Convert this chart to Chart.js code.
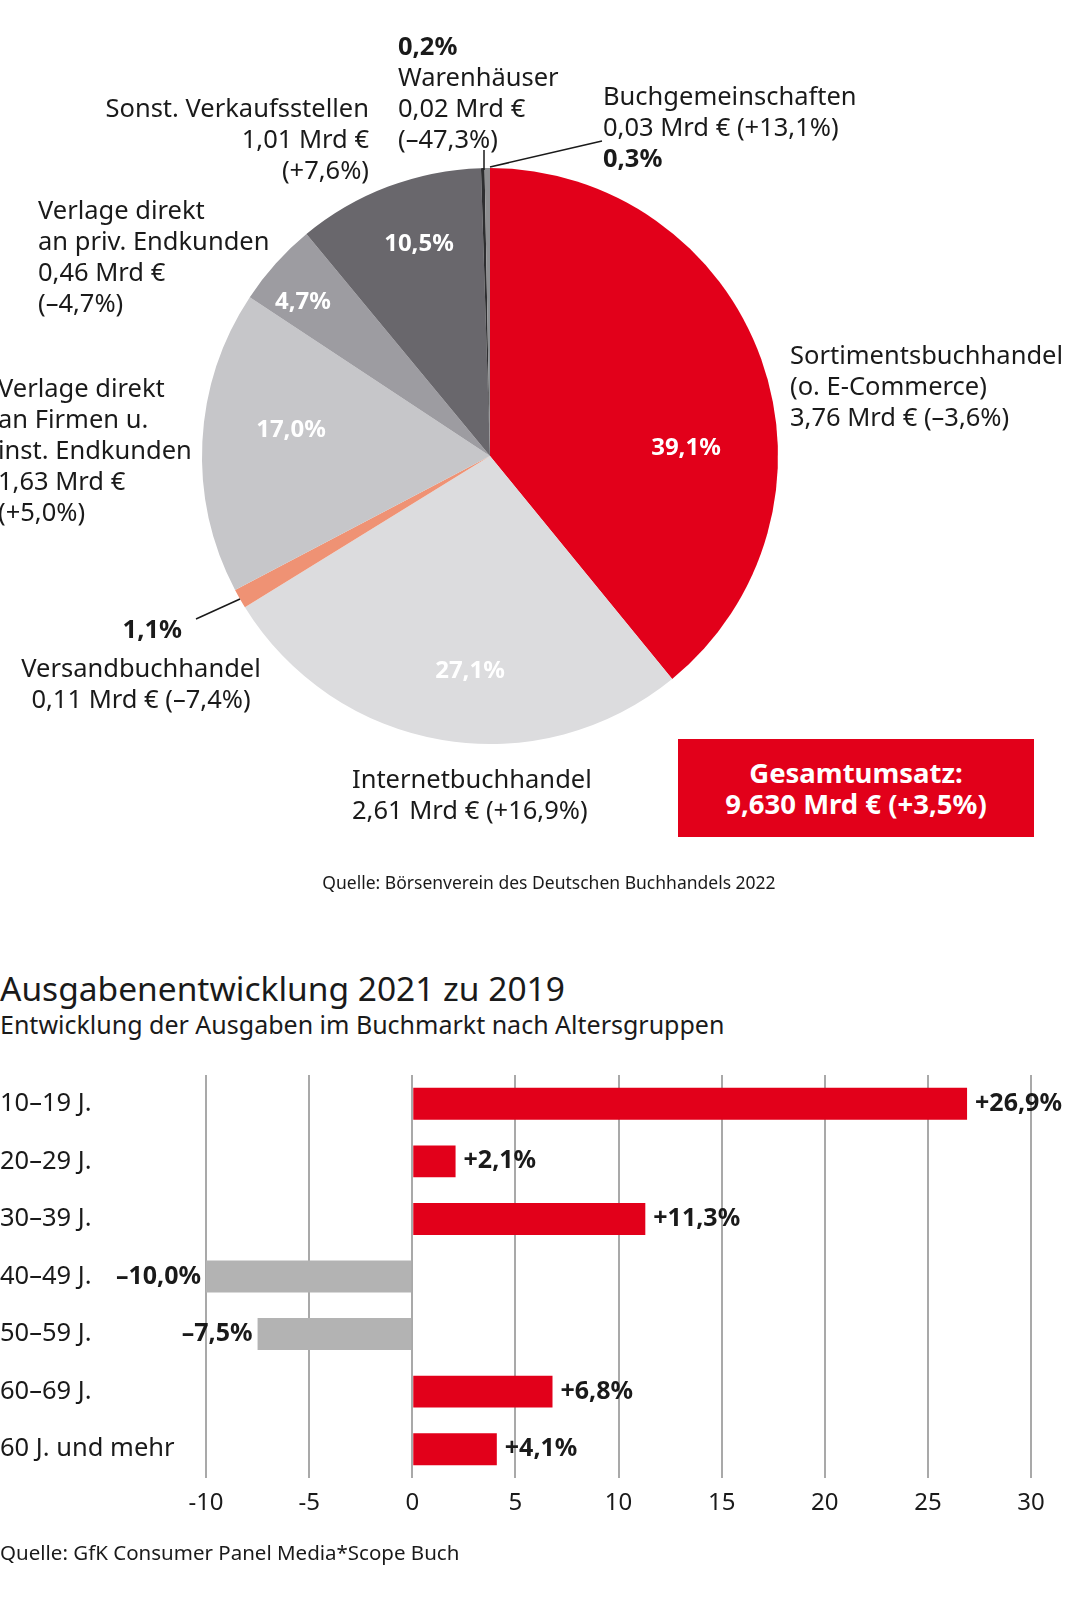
<!DOCTYPE html>
<html>
<head>
<meta charset="utf-8">
<script src="https://cdn.jsdelivr.net/npm/chart.js@4.4.1/dist/chart.umd.min.js"></script>
<style>
  html, body { margin:0; padding:0; background:#fff; }
  body { width:1092px; height:1600px; position:relative; overflow:hidden; font-family:"Noto Sans", sans-serif; color:#1a1a1a; }
  .t { position:absolute; font-size:25.5px; line-height:31px; white-space:nowrap; }
  .in { position:absolute; font-size:24px; font-weight:bold; color:#fff; transform:translate(-50%,-50%); white-space:nowrap; }
  b { font-weight:bold; }
  #pie { position:absolute; left:0; top:0; }
  #bar { position:absolute; left:0; top:1040px; }
  svg { position:absolute; left:0; top:0; }
</style>
</head>
<body>
<canvas id="pie" width="1092" height="880"></canvas>
<svg width="1092" height="900">
  <line x1="484" y1="150" x2="484" y2="170" stroke="#1a1a1a" stroke-width="1.5"/>
  <line x1="490" y1="167" x2="602" y2="141" stroke="#1a1a1a" stroke-width="1.5"/>
  <line x1="196" y1="619" x2="240" y2="599" stroke="#1a1a1a" stroke-width="1.5"/>
</svg>

<div class="t" style="left:398px;top:30px;"><b>0,2%</b><br>Warenhäuser<br>0,02 Mrd €<br>(–47,3%)</div>
<div class="t" style="left:603px;top:80px;">Buchgemeinschaften<br>0,03 Mrd € (+13,1%)<br><b>0,3%</b></div>
<div class="t" style="right:723px;top:92px;text-align:right;">Sonst. Verkaufsstellen<br>1,01 Mrd €<br>(+7,6%)</div>
<div class="t" style="left:38px;top:194px;">Verlage direkt<br>an priv. Endkunden<br>0,46 Mrd €<br>(–4,7%)</div>
<div class="t" style="left:790px;top:339px;">Sortimentsbuchhandel<br>(o. E-Commerce)<br>3,76 Mrd € (–3,6%)</div>
<div class="t" style="left:-2px;top:372px;">Verlage direkt<br>an Firmen u.<br>inst. Endkunden<br>1,63 Mrd €<br>(+5,0%)</div>
<div class="t" style="right:910px;top:613px;font-weight:bold;">1,1%</div>
<div class="t" style="left:141px;top:652px;transform:translateX(-50%);text-align:center;">Versandbuchhandel<br>0,11 Mrd € (–7,4%)</div>
<div class="t" style="left:352px;top:763px;">Internetbuchhandel<br>2,61 Mrd € (+16,9%)</div>
<div style="position:absolute;left:678px;top:739px;width:356px;height:98px;background:#e2001a;color:#fff;font-weight:bold;font-size:27.5px;line-height:31px;text-align:center;box-sizing:border-box;padding-top:18px;">Gesamtumsatz:<br>9,630 Mrd € (+3,5%)</div>
<div style="position:absolute;left:549px;top:870px;transform:translateX(-50%);font-size:17.5px;white-space:nowrap;">Quelle: Börsenverein des Deutschen Buchhandels 2022</div>

<div class="in" style="left:686px;top:445px;">39,1%</div>
<div class="in" style="left:470px;top:668px;">27,1%</div>
<div class="in" style="left:291px;top:427px;">17,0%</div>
<div class="in" style="left:303px;top:299px;">4,7%</div>
<div class="in" style="left:419px;top:241px;">10,5%</div>

<div style="position:absolute;left:0;top:965px;font-size:33.5px;white-space:nowrap;">Ausgabenentwicklung 2021 zu 2019</div>
<div style="position:absolute;left:0;top:1007px;font-size:25px;white-space:nowrap;">Entwicklung der Ausgaben im Buchmarkt nach Altersgruppen</div>
<canvas id="bar" width="1092" height="520"></canvas>
<div style="position:absolute;left:0;top:1538px;font-size:20.5px;white-space:nowrap;">Quelle: GfK Consumer Panel Media*Scope Buch</div>

<script>
// ---- Pie data ----
const pieLabels = ["Sortimentsbuchhandel", "Internetbuchhandel", "Versandbuchhandel", "Verlage direkt an Firmen u. inst. Endkunden", "Verlage direkt an priv. Endkunden", "Sonst. Verkaufsstellen", "Warenhäuser", "Buchgemeinschaften"];
const pieValues = [39.1, 27.1, 1.1, 17.0, 4.7, 10.5, 0.2, 0.3];
const pieColors = ["#e2001a", "#dcdcde", "#ef9274", "#c6c6c9", "#9d9ca1", "#69676c", "#2e2e30", "#8e8e90"];

// ---- Bar data ----
const ageGroups = ["10–19 J.", "20–29 J.", "30–39 J.", "40–49 J.", "50–59 J.", "60–69 J.", "60 J. und mehr"];
const spendChange = [26.9, 2.1, 11.3, -10.0, -7.5, 6.8, 4.1];
const xTicks = [-10, -5, 0, 5, 10, 15, 20, 25, 30];

new Chart(document.getElementById('pie'), {
  type: 'pie',
  data: { labels: pieLabels, datasets: [{ data: pieValues, backgroundColor: pieColors, borderWidth: 0 }] },
  options: {
    responsive: false, animation: false,
    layout: { padding: { left: 202, right: 314, top: 168, bottom: 136 } },
    plugins: { legend: { display: false }, tooltip: { enabled: false } }
  }
});

function fmt(v) {
  const s = Math.abs(v).toFixed(1).replace('.', ',');
  return (v < 0 ? '–' : '+') + s + '%';
}

const barLabelsPlugin = {
  id: 'barLabels',
  afterDatasetsDraw(chart) {
    const ctx = chart.ctx;
    const ys = chart.scales.y;
    const meta = chart.getDatasetMeta(0);
    ctx.save();
    ctx.textBaseline = 'middle';
    ageGroups.forEach((g, i) => {
      const y = ys.getPixelForValue(i);
      ctx.font = '25.5px "Noto Sans"';
      ctx.fillStyle = '#1a1a1a';
      ctx.textAlign = 'left';
      ctx.fillText(g, 0, y);
      const bar = meta.data[i];
      ctx.font = 'bold 25px "Noto Sans"';
      if (spendChange[i] >= 0) {
        ctx.textAlign = 'left';
        ctx.fillText(fmt(spendChange[i]), bar.x + 8, y);
      } else {
        ctx.textAlign = 'right';
        ctx.fillText(fmt(spendChange[i]), bar.x - 5, y);
      }
    });
    ctx.restore();
  }
};

new Chart(document.getElementById('bar'), {
  type: 'bar',
  data: {
    labels: ageGroups,
    datasets: [{
      data: spendChange,
      backgroundColor: spendChange.map(v => v >= 0 ? '#e2001a' : '#b3b3b3'),
      barPercentage: 0.555, categoryPercentage: 1.0, borderWidth: 0
    }]
  },
  options: {
    indexAxis: 'y', responsive: false, animation: false,
    layout: { padding: { left: 206, right: 61, top: 35, bottom: 0 } },
    scales: {
      x: {
        min: -10, max: 30,
        afterBuildTicks: (s) => { s.ticks = xTicks.map(v => ({ value: v })); },
        afterFit: (s) => { s.height = 82; },
        grid: { color: '#a9a9a9', lineWidth: 2, drawTicks: false },
        border: { display: false },
        ticks: { padding: 11, color: '#1a1a1a', font: { family: 'Noto Sans', size: 24 }, callback: (v) => String(v) }
      },
      y: { display: false }
    },
    plugins: { legend: { display: false }, tooltip: { enabled: false } }
  },
  plugins: [barLabelsPlugin]
});
</script>
</body>
</html>
